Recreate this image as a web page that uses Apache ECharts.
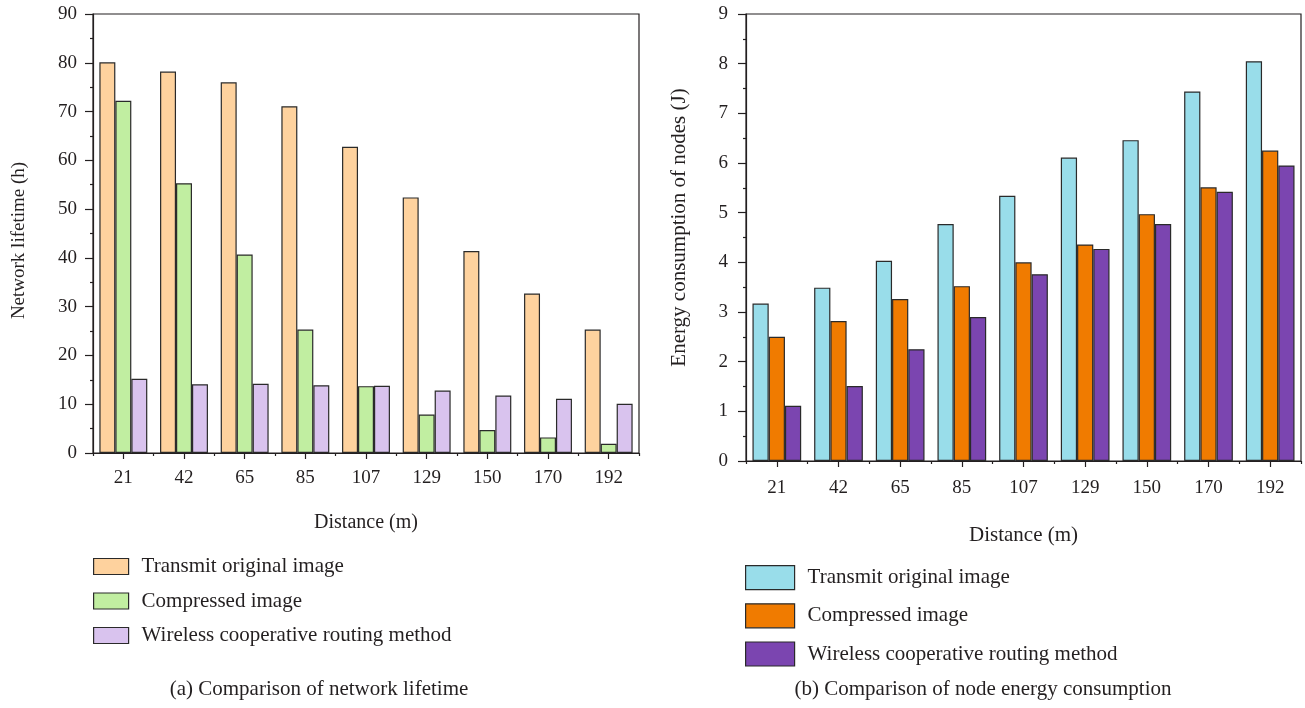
<!DOCTYPE html>
<html>
<head>
<meta charset="utf-8">
<script src="https://cdn.jsdelivr.net/npm/echarts@6/dist/echarts.min.js"></script>
<style>html,body{margin:0;padding:0;background:#fff}#c{width:1305px;height:708px}</style>
</head>
<body>
<div id="c"></div>
<script>
const categories = ['21','42','65','85','107','129','150','170','192'];
const seriesNames = ['Transmit original image','Compressed image','Wireless cooperative routing method'];
const lifeTransmit = [80.1,78.2,76.0,71.1,62.8,52.4,41.4,32.7,25.3];
const lifeCompressed = [72.2,55.3,40.7,25.3,13.7,7.9,4.7,3.2,1.9];
const lifeWireless = [15.2,14.1,14.2,13.9,13.8,12.8,11.8,11.1,10.1];
const energyTransmit = [3.17,3.49,4.03,4.77,5.34,6.11,6.46,7.44,8.05];
const energyCompressed = [2.50,2.82,3.26,3.52,4.00,4.36,4.97,5.51,6.25];
const energyWireless = [1.11,1.51,2.25,2.90,3.76,4.27,4.77,5.42,5.95];
const lifeColors = ['#FED29E','#C1EEA1','#D9C3EE'];
const energyColors = ['#99DDEA','#F07B00','#7B45B0'];

const FONT = 'Liberation Serif';
const TXT = '#231f20';
const LINE = '#231f20';

function catAxes(gridIndex, labelMargin, name, nameGap, nameSize) {
  return [
    {
      type: 'category', gridIndex, data: categories,
      axisLine: {show: true, lineStyle: {color: LINE, width: 1.2}},
      axisTick: {show: true, alignWithLabel: true, inside: false, length: 6, lineStyle: {color: LINE, width: 1.2}},
      axisLabel: {color: TXT, fontFamily: FONT, fontSize: 19, margin: labelMargin},
      name, nameLocation: 'middle', nameGap,
      nameTextStyle: {color: TXT, fontFamily: FONT, fontSize: nameSize}
    },
    {
      type: 'category', gridIndex, data: categories, position: 'bottom',
      axisLine: {show: false},
      axisTick: {show: true, alignWithLabel: false, length: 3, lineStyle: {color: LINE, width: 1.2}},
      axisLabel: {show: false}
    }
  ];
}

function valAxis(gridIndex, max, interval, labelMargin, name, nameGap, nameSize, namePad) {
  return {
    type: 'value', gridIndex, min: 0, max, interval,
    axisLine: {show: true, lineStyle: {color: LINE, width: 1.2}},
    axisTick: {show: true, length: 8, lineStyle: {color: LINE, width: 1.2}},
    minorTick: {show: true, splitNumber: 2, length: 3, lineStyle: {color: LINE, width: 1.2}},
    splitLine: {show: false},
    axisLabel: {color: TXT, fontFamily: FONT, fontSize: 19, margin: labelMargin},
    name, nameLocation: 'middle', nameGap, nameRotate: 90,
    nameTextStyle: {color: TXT, fontFamily: FONT, fontSize: nameSize, padding: namePad}
  };
}

function barSeries(name, data, color, xIdx, yIdx) {
  return {
    type: 'bar', name, data, xAxisIndex: xIdx, yAxisIndex: yIdx,
    barGap: '0%', barCategoryGap: '21%',
    itemStyle: {color, borderColor: '#2a2a2a', borderWidth: 1.2},
    emphasis: {disabled: true}, animation: false
  };
}

const chart = echarts.init(document.getElementById('c'), null, {renderer: 'canvas'});
chart.setOption({
  animation: false,
  backgroundColor: '#fff',
  grid: [
    {left: 93, top: 14, width: 546, height: 439, show: true, borderColor: LINE, borderWidth: 1.2, backgroundColor: 'transparent'},
    {left: 746, top: 14, width: 555, height: 447, show: true, borderColor: LINE, borderWidth: 1.2, backgroundColor: 'transparent'}
  ],
  xAxis: [
    ...catAxes(0, 16, 'Distance (m)', 60, 20),
    ...catAxes(1, 18, 'Distance (m)', 64, 21)
  ],
  yAxis: [
    valAxis(0, 90, 10, 16, 'Network lifetime (h)', 64, 19, [0, 14, 0, 0]),
    valAxis(1, 9, 1, 18, 'Energy consumption of nodes (J)', 56, 21, [0, 0, 0, 20])
  ],
  legend: [
    {
      orient: 'vertical', left: 93, top: 556, padding: 0, itemWidth: 35, itemHeight: 16, itemGap: 13.5,
      icon: 'rect', selectedMode: false,
      textStyle: {color: TXT, fontFamily: FONT, fontSize: 21, lineHeight: 20, padding: [0,0,0,8]},
      itemStyle: {borderColor: '#2a2a2a', borderWidth: 1.2},
      data: seriesNames.map((n, i) => ({name: n, itemStyle: {color: lifeColors[i]}}))
    },
    {
      orient: 'vertical', left: 745, top: 565, padding: 0, itemWidth: 49, itemHeight: 24, itemGap: 13,
      icon: 'rect', selectedMode: false,
      textStyle: {color: TXT, fontFamily: FONT, fontSize: 21, lineHeight: 24, padding: [0,0,0,8]},
      itemStyle: {borderColor: '#2a2a2a', borderWidth: 1.2},
      data: seriesNames.map((n, i) => ({name: n, itemStyle: {color: energyColors[i]}}))
    }
  ],
  title: [
    {text: '(a) Comparison of network lifetime', left: 319, top: 679, padding: 0, textAlign: 'center',
     textStyle: {color: TXT, fontFamily: FONT, fontSize: 21, fontWeight: 'normal'}},
    {text: '(b) Comparison of node energy consumption', left: 983, top: 679, padding: 0, textAlign: 'center',
     textStyle: {color: TXT, fontFamily: FONT, fontSize: 21, fontWeight: 'normal'}}
  ],
  series: [
    barSeries(seriesNames[0], lifeTransmit, lifeColors[0], 0, 0),
    barSeries(seriesNames[1], lifeCompressed, lifeColors[1], 0, 0),
    barSeries(seriesNames[2], lifeWireless, lifeColors[2], 0, 0),
    barSeries(seriesNames[0], energyTransmit, energyColors[0], 2, 1),
    barSeries(seriesNames[1], energyCompressed, energyColors[1], 2, 1),
    barSeries(seriesNames[2], energyWireless, energyColors[2], 2, 1)
  ]
});
</script>
</body>
</html>
